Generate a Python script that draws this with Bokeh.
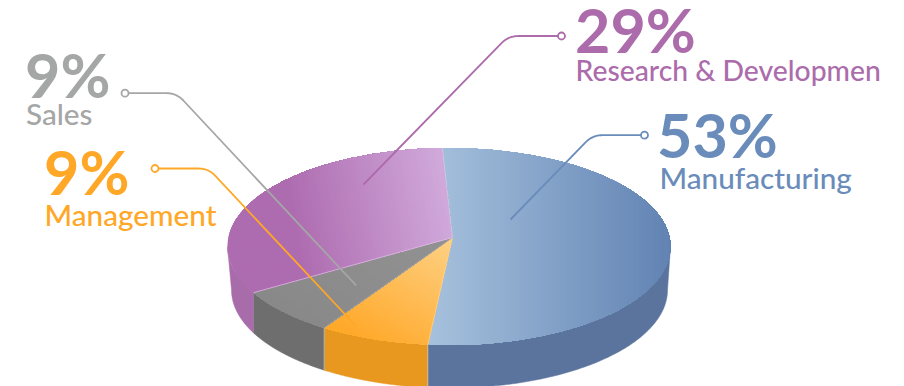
import numpy as np
from bokeh.plotting import figure
from bokeh.models import Range1d
from bokeh.core.properties import value
from bokeh.embed import file_html
from bokeh.resources import INLINE

categories = ["Manufacturing", "Management", "Sales", "Research & Developmen"]
percent_labels = [53, 9, 9, 29]
drawn_share = [52.0, 8.0, 7.7, 32.3]  # share of the rim each slice shows in the picture

FONT = "Lato"
NAME_FONT = "Lato Medium, Lato"
label_col = ["#6a8cbb", "#ffa726", "#a5a6a6", "#ac6cab"]
side_col = ["#5a749e", "#e8981f", "#6e6e6e", "#a86cab"]
grad = [
    dict(a="#a6c1dd", b="#6283b3", n=(1, 0), lo=430, hi=670),
    dict(a="#fed185", b="#ffa92b", n=(-0.5, 0.866), lo=-0.5*452+0.866*237, hi=-0.5*360+0.866*338),
    dict(a="#929292", b="#888888", n=(-0.5, 0.866), lo=-0.5*452+0.866*237, hi=-0.5*260+0.866*310),
    dict(a="#ae6cb0", b="#d0a8da", n=(0.985, -0.17), lo=0.985*290-0.17*200, hi=0.985*445-0.17*200),
]
sep_col = ["#c2d2e6", "#fdd08a", "#a8a8a8", "#d8bfe0"]

CX, CY, RX, RY = 448.5, 246.0, 221.5, 98.5
LX, LY, LRX, LRY = 449.0, 289.5, 218.0, 98.0
APEX = (452.0, 237.0)
START = -1.7

p = figure(width=904, height=386, output_backend="svg", toolbar_location=None,
           x_range=Range1d(0, 904), y_range=Range1d(386, 0), min_border=0,
           outline_line_color=None, background_fill_color="white", border_fill_color="white")
p.axis.visible = False
p.grid.visible = False


def rim(d0, d1, n=120):
    t = np.radians(np.linspace(d0, d1, n))
    return CX + RX*np.sin(t), CY - RY*np.cos(t)


def low_deg(x):
    """clockwise angle on the lower half of the lower ellipse for a given x"""
    return 180 - np.degrees(np.arcsin(np.clip((x - LX)/LRX, -1, 1)))


def low(d0, d1, n=120):
    t = np.radians(np.linspace(d0, d1, n))
    return LX + LRX*np.sin(t), LY - LRY*np.cos(t)


def hex2rgb(h):
    return np.array([int(h[i:i+2], 16) for i in (1, 3, 5)], float)


def clip(pts, n, lo):
    out = []
    m = len(pts)
    for i in range(m):
        a, b = pts[i], pts[(i+1) % m]
        sa = a[0]*n[0]+a[1]*n[1] - lo
        sb = b[0]*n[0]+b[1]*n[1] - lo
        if sa >= 0:
            out.append(a)
        if sa*sb < 0:
            f = sa/(sa-sb)
            out.append((a[0]+f*(b[0]-a[0]), a[1]+f*(b[1]-a[1])))
    return out


bounds = START + np.cumsum([0] + drawn_share)*3.6

# side walls, from the rim down to the lower ellipse
wall_ranges = [(90, bounds[1]), (bounds[1], bounds[2]), (bounds[2], bounds[3]), (bounds[3], 270)]
for i, (d0, d1) in enumerate(wall_ranges):
    ux, uy = rim(d0, d1)
    l0 = low_deg(ux[0]) if i > 0 else 90
    l1 = low_deg(ux[-1]) if i < 3 else 270
    dx, dy = low(l0, l1)
    p.patch(np.r_[ux, dx[::-1]], np.r_[uy, dy[::-1]], fill_color=side_col[i],
            line_color=side_col[i], line_width=0.5)

# tops, as overlapping gradient bands painted one over the other
for i in range(4):
    rx_, ry_ = rim(bounds[i], bounds[i+1])
    poly = [APEX] + list(zip(rx_, ry_))
    g = grad[i]
    s = [q[0]*g["n"][0] + q[1]*g["n"][1] for q in poly]
    edges = np.arange(min(s), max(s), 2.0)
    ca, cb = hex2rgb(g["a"]), hex2rgb(g["b"])
    xs, ys, cols = [], [], []
    for e0 in edges:
        piece = poly if e0 == edges[0] else clip(poly, g["n"], e0)
        if len(piece) < 3:
            continue
        f = np.clip((e0 + 1 - g["lo"])/(g["hi"] - g["lo"]), 0, 1)
        c = ca + f*(cb-ca)
        xs.append([q[0] for q in piece])
        ys.append([q[1] for q in piece])
        cols.append("#%02x%02x%02x" % tuple(int(round(v)) for v in c))
    p.patches(xs, ys, fill_color=cols, line_color=None)

# slice separators
for i, d in enumerate(bounds[:4]):
    ex, ey = rim(d, d, 1)
    p.line([APEX[0], ex[0]], [APEX[1], ey[0]], line_color=sep_col[i], line_width=1, line_alpha=0.8)
for d in bounds[1:3]:
    ex, ey = rim(d, d, 1)
    p.line([ex[0], ex[0]], [ey[0], LY - LRY*np.cos(np.radians(low_deg(ex[0])))],
           line_color="#c9c9c9", line_width=1, line_alpha=0.7)

# leader lines: dot, elbow, end inside the slice
leaders = [
    ((644, 134.7), (592, 134.7), (510, 219)),
    ((154.5, 168), (208, 168), (355, 325)),
    ((124.5, 92.7), (176, 92.7), (355.7, 285)),
    ((561, 35.5), (508, 35.5), (363, 184)),
]
for i, (dot, elbow, end) in enumerate(leaders):
    v1 = np.array(dot) - np.array(elbow)
    v2 = np.array(end) - np.array(elbow)
    p0 = np.array(elbow) + v1/np.linalg.norm(v1)*10
    p2 = np.array(elbow) + v2/np.linalg.norm(v2)*10
    t = np.linspace(0, 1, 12)[:, None]
    curve = (1-t)**2*p0 + 2*t*(1-t)*np.array(elbow) + t**2*p2
    p.line(np.r_[dot[0], curve[:, 0], end[0]], np.r_[dot[1], curve[:, 1], end[1]],
           line_color=label_col[i], line_width=1.8)
    p.scatter([dot[0]], [dot[1]], size=7, marker="circle", fill_color="white",
              line_color=label_col[i], line_width=1.8)

# labels
pct_pos = [(656.5, 158.5), (43.5, 195.5), (24.5, 98.5), (574.5, 53.5)]
name_pos = [(659, 188), (44, 225), (25.5, 124), (575, 80)]
name_size = [29.7, 29.7, 29.7, 28.3]
PCT_SIZE = 61
for i in range(4):
    p.text([pct_pos[i][0]], [pct_pos[i][1]], text=[f"{percent_labels[i]}%"], text_color=label_col[i],
           text_font=value(FONT), text_font_size=value(f"{PCT_SIZE}px"), text_font_style="bold",
           text_align="left", text_baseline="alphabetic", y_offset=-0.40*PCT_SIZE)
    p.text([name_pos[i][0]], [name_pos[i][1]], text=[categories[i]], text_color=label_col[i],
           text_font=value(NAME_FONT), text_font_size=value(f"{name_size[i]}px"), text_font_style="normal",
           text_align="left", text_baseline="alphabetic", y_offset=-0.37*name_size[i])

open("out.html", "w").write(file_html(p, INLINE))
